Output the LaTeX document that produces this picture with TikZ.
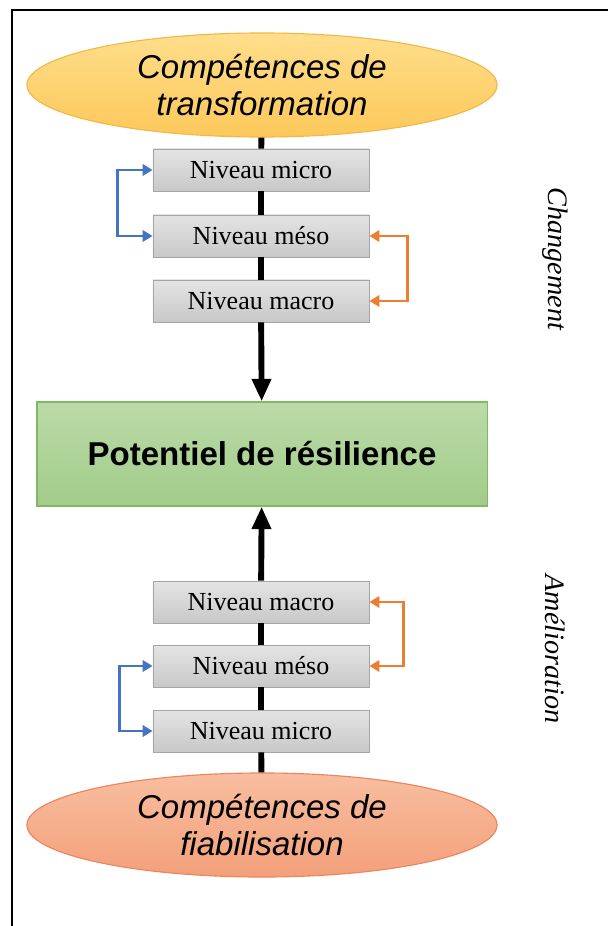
\documentclass[tikz,border=0pt]{standalone}
\usepackage{fontspec}
\setmainfont{Liberation Serif}
\newfontfamily\arialfont{Liberation Sans}
\usetikzlibrary{arrows.meta,shapes.geometric}

\definecolor{jauneclair}{RGB}{255,222,140}
\definecolor{jaunefonce}{RGB}{252,200,90}
\definecolor{jaunebord}{RGB}{242,184,70}
\definecolor{saumonclair}{RGB}{248,190,160}
\definecolor{saumonfonce}{RGB}{243,160,122}
\definecolor{saumonbord}{RGB}{236,132,92}
\definecolor{vertclair}{RGB}{186,219,168}
\definecolor{vertfonce}{RGB}{162,204,138}
\definecolor{vertbord}{RGB}{132,182,104}
\definecolor{grisclair}{RGB}{228,228,228}
\definecolor{grisfonce}{RGB}{200,200,200}
\definecolor{grisbord}{RGB}{165,165,165}
\definecolor{bleuboucle}{RGB}{68,114,196}
\definecolor{orangeboucle}{RGB}{237,125,49}

\tikzset{
    competence/.style={ellipse, draw=#1bord, line width=0.8pt,
        top color=#1clair, bottom color=#1fonce,
        minimum width=11.75cm, minimum height=2.6cm, inner sep=0pt,
        align=center, font=\arialfont\itshape\fontsize{23.5}{27}\selectfont},
    niveau/.style={rectangle, draw=grisbord, line width=0.6pt,
        top color=grisclair, bottom color=grisfonce,
        minimum width=5.4cm, minimum height=1.05cm, inner sep=0pt,
        font=\fontsize{18.5}{20}\selectfont},
    potentiel/.style={rectangle, draw=vertbord, line width=0.8pt,
        top color=vertclair, bottom color=vertfonce,
        minimum width=11.25cm, minimum height=2.6cm, inner sep=0pt,
        font=\arialfont\bfseries\fontsize{23.5}{26}\selectfont},
    lien/.style={line width=4.2pt},
    fleche/.style={lien, -{Triangle[length=16pt,width=13pt]}},
    boucle/.style={line width=2pt, {Triangle[length=7pt,width=8pt]}-{Triangle[length=7pt,width=8pt]}},
    axe/.style={rotate=-90, font=\itshape\fontsize{20}{22}\selectfont}
}

\begin{document}
\begin{tikzpicture}[x=0.025cm, y=-0.025cm]
            \useasboundingbox (0,0) rectangle (608,926);
            \draw[line width=2pt] (12,926) -- (12,10) -- (608,10);

            % changement
            \node[competence=jaune] (transfo) at (262,85) {Compétences de\\transformation};
            \node[niveau] (hmicro) at (261,170) {Niveau micro};
            \node[niveau] (hmeso) at (261,236) {Niveau méso};
            \node[niveau] (hmacro) at (261,301) {Niveau macro};

            \node[potentiel] (resil) at (262,454) {Potentiel de résilience};

            % amelioration
            \node[niveau] (bmacro) at (261,602) {Niveau macro};
            \node[niveau] (bmeso) at (261,666) {Niveau méso};
            \node[niveau] (bmicro) at (261,731) {Niveau micro};
            \node[competence=saumon] (fiab) at (262,825) {Compétences de\\fiabilisation};

            \draw[lien] (transfo) -- (hmicro);
            \draw[lien] (hmicro) -- (hmeso);
            \draw[lien] (hmeso) -- (hmacro);
            \draw[fleche] (hmacro) -- (resil);

            \draw[lien] (fiab) -- (bmicro);
            \draw[lien] (bmicro) -- (bmeso);
            \draw[lien] (bmeso) -- (bmacro);
            \draw[fleche] (bmacro) -- (resil);

            \draw[boucle,bleuboucle] (hmicro.west) -- ++(-35,0) |- (hmeso.west);
            \draw[boucle,orangeboucle] (hmeso.east) -- ++(38,0) |- (hmacro.east);
            \draw[boucle,orangeboucle] (bmacro.east) -- ++(34,0) |- (bmeso.east);
            \draw[boucle,bleuboucle] (bmeso.west) -- ++(-33,0) |- (bmicro.west);

            \node[axe] (chgt) at (555,259) {Changement};
            \node[axe] (amel) at (555,649) {Amélioration};
\end{tikzpicture}
\end{document}
